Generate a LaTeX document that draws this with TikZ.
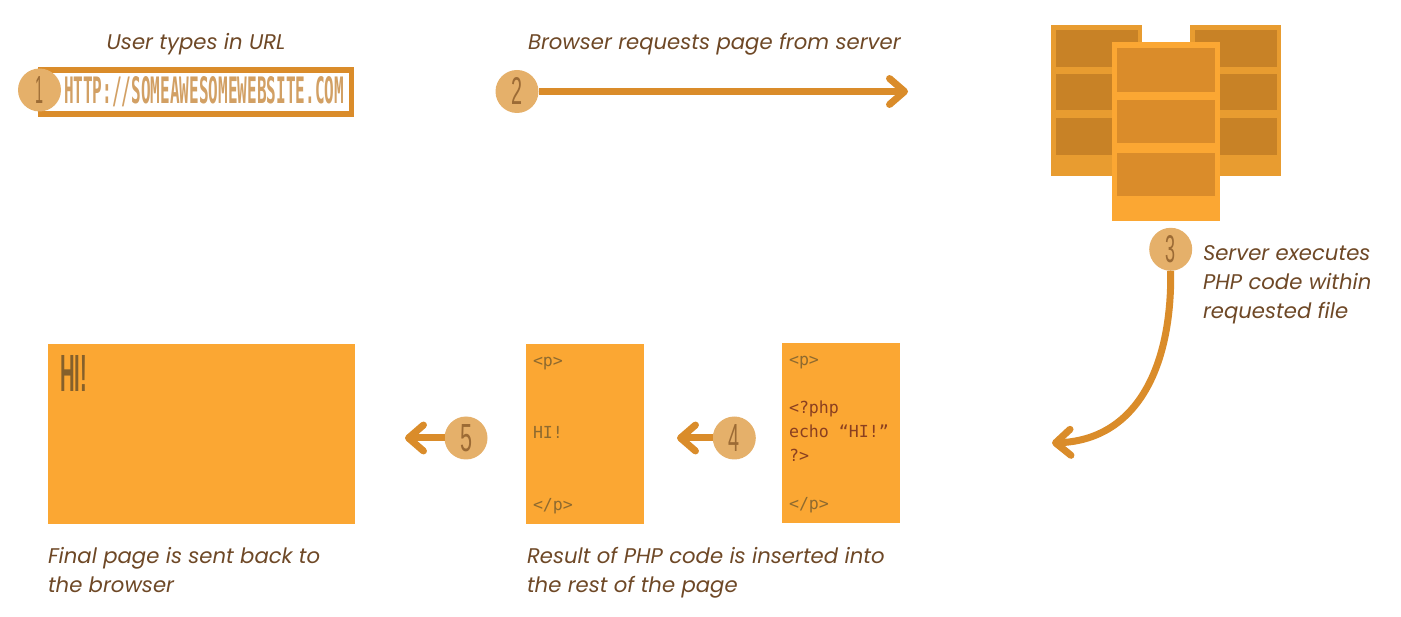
\documentclass[tikz,border=0pt]{standalone}
\usepackage{fontspec}
\usepackage{graphicx}
\setmainfont{Poppins}
\setmonofont{DejaVu Sans Mono}
\newfontfamily\handfont{Liberation Sans}
\newfontfamily\urlfont{DejaVu Sans Mono}
\usetikzlibrary{arrows.meta}
\definecolor{strokeor}{HTML}{DA8C2A}
\definecolor{badgeor}{HTML}{E5B06A}
\definecolor{pageor}{HTML}{FBA733}
\definecolor{backor}{HTML}{E89C30}
\definecolor{backpanel}{HTML}{C88226}
\definecolor{labelbrown}{HTML}{6E4826}
\definecolor{digitbrown}{HTML}{9C6B35}
\definecolor{urltext}{HTML}{D2A064}
\definecolor{hibrown}{HTML}{85602B}
\definecolor{codemuted}{HTML}{8E6A2F}
\definecolor{codephp}{HTML}{8A3F20}
\newcommand{\handtext}[3]{\resizebox{#1pt}{#2pt}{\handfont #3}}
\tikzset{
  x=1pt,y=-1pt,
  every node/.style={inner sep=0pt,outer sep=0pt},
  badge/.style={circle,fill=badgeor,minimum size=43pt,text=digitbrown},
  flow/.style={draw=strokeor,line width=7pt,-{Straight Barb[length=15pt,width=26pt,round]}},
  label/.style={text=labelbrown,font=\fontsize{21.2}{29}\selectfont\itshape,align=left},
  block/.style={fill=pageor,anchor=north west},
  code/.style={text=codemuted,font=\ttfamily\fontsize{16.6}{24}\selectfont,anchor=base west},
  phpcode/.style={code,text=codephp},
}
\begin{document}
\begin{tikzpicture}
\useasboundingbox (0,0) rectangle (1401,617);
% labels
\node[label,anchor=base] (l1) at (196,50) {User types in URL};
\node[label,anchor=base west] (l2) at (528,50) {Browser requests page from server};
\node[label,anchor=north west] (l3) at (1203,246) {Server executes\\PHP code within\\requested file};
\node[label,anchor=north west] (l4) at (527,547) {Result of PHP code is inserted into\\the rest of the page};
\node[label,anchor=north west] (l5) at (48,547) {Final page is sent back to\\the browser};
% URL bar
\node[draw=strokeor,line width=5.5pt,fill=white,minimum width=311pt,minimum height=44pt] (url) at (196,92) {};
\node[text=urltext] (urltxt) at (204,92) {\resizebox{280pt}{27pt}{\urlfont\bfseries HTTP://SOMEAWESOMEWEBSITE.COM}};
% servers
\fill[backor] (1051.3,24.7) rectangle (1142,175.7);
\fill[backor] (1190.3,24.7) rectangle (1281,175.7);
\fill[backpanel] (1055.7,30) rectangle (1137.7,66.7);
\fill[backpanel] (1055.7,73.7) rectangle (1137.7,110.3);
\fill[backpanel] (1055.7,117.7) rectangle (1137.7,154.7);
\fill[backpanel] (1194.7,30) rectangle (1277,66.7);
\fill[backpanel] (1194.7,73.7) rectangle (1277,110.3);
\fill[backpanel] (1194.7,117.7) rectangle (1277,154.7);
\fill[pageor] (1112.3,42) rectangle (1219.7,221.3);
\fill[strokeor] (1117.3,48.3) rectangle (1215,91.7);
\fill[strokeor] (1117.3,100) rectangle (1215,143.3);
\fill[strokeor] (1117.3,152.7) rectangle (1215,195.7);
% pages
\node[block,minimum width=118pt,minimum height=179.5pt] (src) at (782,343) {};
\node[block,minimum width=118pt,minimum height=179.5pt] (res) at (526,344) {};
\node[block,minimum width=307pt,minimum height=179.5pt] (final) at (48,344) {};
\node[text=hibrown] (hi) at (73.5,373.5) {\handtext{27}{36}{\bfseries HI!}};
% code
\node[code] (c1) at (533,367) {<p>};
\node[code] (c2) at (533,439) {HI!};
\node[code] (c3) at (533,511) {</p>};
\node[code] (d1) at (789,366) {<p>};
\node[phpcode] (d2) at (789,414) {<?php};
\node[phpcode] (d3) at (789,438) {echo “HI!”};
\node[phpcode] (d4) at (789,462) {?>};
\node[code] (d5) at (789,510) {</p>};
% free ends
\coordinate (e2) at (908,91.5);
\coordinate (e3) at (1052,443);
\coordinate (e4) at (677,438);
\coordinate (e5) at (405,438);
% badges
\node[badge] (b1) at (39.5,90) {\handtext{8}{27}{1}};
\node[badge] (b2) at (517,91.5) {\handtext{11}{27}{2}};
\node[badge] (b3) at (1170.7,249.3) {\handtext{10}{27}{3}};
\node[badge] (b4) at (734.3,438) {\handtext{11}{27}{4}};
\node[badge] (b5) at (466,438) {\handtext{12}{27}{5}};
% connectors
\draw[flow] (b2) -- (e2);
\draw[flow] (b3.south) .. controls (1172,370) and (1135,440) .. (e3);
\draw[flow] (b4) -- (e4);
\draw[flow] (b5) -- (e5);
\end{tikzpicture}
\end{document}
